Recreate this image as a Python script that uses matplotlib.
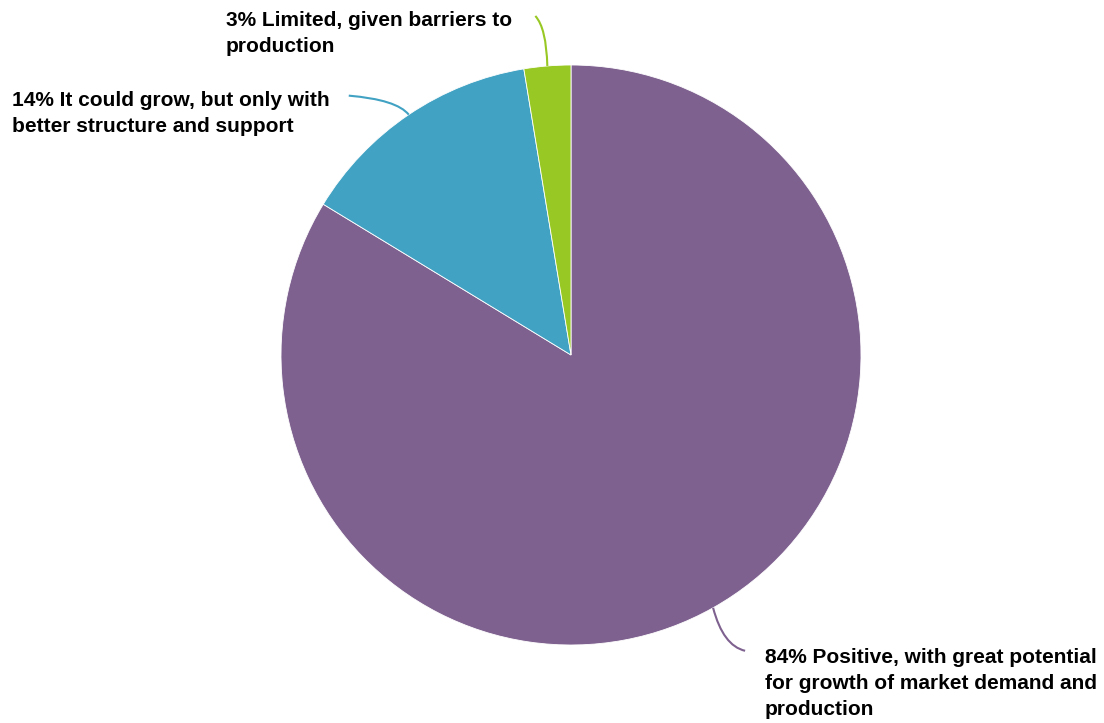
import numpy as np
import matplotlib
matplotlib.use("Agg")
import matplotlib.pyplot as plt
from matplotlib.path import Path
from matplotlib.patches import PathPatch

plt.rcParams['font.family'] = ['Liberation Sans', 'DejaVu Sans']

# data
shares = [83.7, 13.7, 2.6]
labels = ["84% Positive, with great potential\nfor growth of market demand and\nproduction",
          "14% It could grow, but only with\nbetter structure and support",
          "3% Limited, given barriers to\nproduction"]
colors = ["#7e618f", "#41a2c3", "#98c823"]

W, H = 1104, 723
fig = plt.figure(figsize=(W / 100, H / 100), dpi=100)
ax = fig.add_axes([0, 0, 1, 1])

cx, cy, r = 571, H - 355, 290
wedges, _ = ax.pie(shares, colors=colors, startangle=90, counterclock=False,
                   center=(cx, cy), radius=r, frame=True,
                   wedgeprops=dict(edgecolor='white', linewidth=0.6))
ax.set_xlim(0, W)
ax.set_ylim(0, H)
ax.set_aspect('equal')
ax.axis('off')

# leader line layout: (control offset, end offset) relative to edge point, text top-left
layout = [
    ((10, -38), (32, -43), (765, H - 648)),
    ((-12, 15), (-60, 19), (12, H - 91)),
    ((-1, 38), (-12, 50), (226, H - 11)),
]

for w, lab, col, (ctl, end, tpos) in zip(wedges, labels, colors, layout):
    mid = np.deg2rad((w.theta1 + w.theta2) / 2)
    x0 = cx + r * np.cos(mid)
    y0 = cy + r * np.sin(mid)
    verts = [(x0, y0), (x0 + ctl[0], y0 + ctl[1]), (x0 + end[0], y0 + end[1])]
    p = Path(verts, [Path.MOVETO, Path.CURVE3, Path.CURVE3])
    ax.add_patch(PathPatch(p, fc='none', ec=col, lw=1.5))
    ax.text(tpos[0], tpos[1], lab, ha='left', va='top', fontsize=15,
            fontweight='bold', color='black', linespacing=1.48)

fig.savefig("out.png", dpi=100)
